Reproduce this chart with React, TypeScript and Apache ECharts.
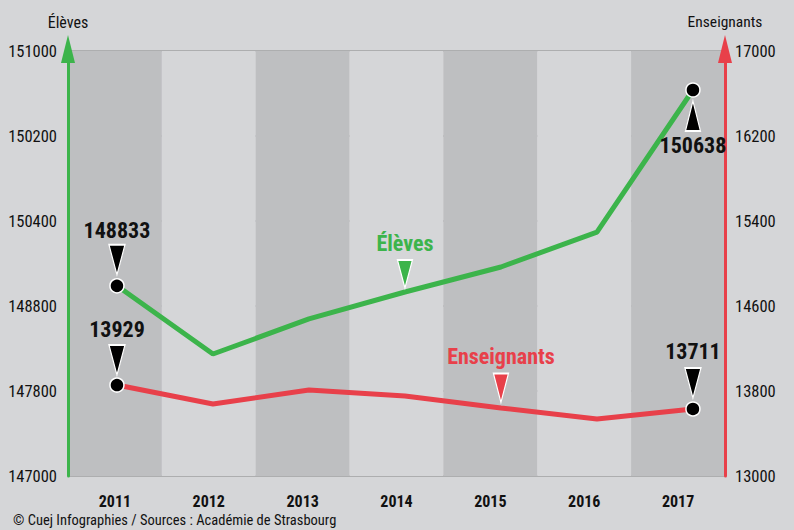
import React, { useEffect, useRef } from 'react';
import * as echarts from 'echarts';

const years = ['2011', '2012', '2013', '2014', '2015', '2016', '2017'];
const yearValues = [2011, 2012, 2013, 2014, 2015, 2016, 2017];
const eleves = [148790, 148148, 148478, 148732, 148967, 149296, 150633];
const enseignants = [13856, 13678, 13809, 13753, 13640, 13536, 13631];
const leftTickLabels = ['147000', '147800', '148800', '150400', '150200', '151000'];
const rightTickLabels = ['13000', '13800', '14600', '15400', '16200', '17000'];
const elevesCallouts = ['148833', '150638'];
const enseignantsCallouts = ['13929', '13711'];
const seriesNames = ['Élèves', 'Enseignants'];
const footerText = '© Cuej Infographies / Sources : Académie de Strasbourg';

const FONT = "'Roboto Condensed', 'DejaVu Sans Condensed', sans-serif";
const GREEN = '#3cb44b';
const RED = '#e8404a';
const DOWN = 'path://M0,0L16,0L8,30Z';
const UP = 'path://M8,0L16,30L0,30Z';

export default function App() {
  const ref = useRef<HTMLDivElement>(null);
  useEffect(() => {
    if (!ref.current) return;
    const chart = echarts.init(ref.current, undefined, { renderer: 'svg' });
    const last = yearValues.length - 1;
    const dotItem = (v: number, i: number) => ({
      value: [yearValues[i], v],
      symbol: i === 0 || i === last ? 'circle' : 'none',
    });
    const calloutLabel = (text: string, pos: string, dist: number) => ({
      show: true,
      position: pos,
      distance: dist,
      formatter: text,
      fontFamily: FONT,
      fontWeight: 'bold',
      fontSize: 22,
      lineHeight: 22,
      color: '#111',
    });
    const nameLabel = (text: string, color: string, dist: number) => ({
      show: true,
      position: 'top',
      distance: dist,
      formatter: text,
      fontFamily: FONT,
      fontWeight: 'bold',
      fontSize: 22,
      lineHeight: 22,
      color,
    });
    const option: any = {
      animation: false,
      backgroundColor: '#d5d6d8',
      textStyle: { fontFamily: FONT },
      grid: { left: 68, right: 69, top: 51, bottom: 54 },
      xAxis: [
        {
          type: 'category',
          data: years,
          boundaryGap: true,
          axisLine: { show: false },
          axisTick: { show: false },
          axisLabel: { fontFamily: FONT, fontWeight: 'bold', fontSize: 16, color: '#111', margin: 17 },
          splitArea: { show: true, interval: 0, areaStyle: { color: ['#bebfc1', '#d5d6d8'] } },
          splitLine: { show: false },
        },
        {
          type: 'value',
          min: 2010.49,
          max: 2017.334,
          show: false,
        },
      ],
      yAxis: [
        {
          type: 'value',
          position: 'left',
          min: 147000,
          max: 151000,
          interval: 800,
          name: seriesNames[0],
          nameLocation: 'end',
          nameGap: 21,
          nameTextStyle: { fontFamily: FONT, fontSize: 16, color: '#111', align: 'center' },
          axisLine: {
            show: true,
            lineStyle: { color: GREEN, width: 3 },
            symbol: ['none', 'triangle'],
            symbolSize: [14, 28],
            symbolOffset: [0, 2],
          },
          axisTick: { show: false },
          axisLabel: {
            fontFamily: FONT,
            fontSize: 16.5,
            color: '#111',
            margin: 11,
            padding: [10, 0, 0, 0],
            formatter: (v: number) => leftTickLabels[Math.round((v - 147000) / 800)] ?? '',
          },
          splitLine: { show: true, lineStyle: { color: '#9fa0a2', width: 1.5 } },
        },
        {
          type: 'value',
          position: 'right',
          min: 13000,
          max: 17000,
          interval: 800,
          name: seriesNames[1],
          nameLocation: 'end',
          nameGap: 21,
          nameTextStyle: { fontFamily: FONT, fontSize: 15.5, color: '#111', align: 'center' },
          axisLine: {
            show: true,
            lineStyle: { color: RED, width: 3 },
            symbol: ['none', 'triangle'],
            symbolSize: [14, 28],
            symbolOffset: [0, 2],
          },
          axisTick: { show: false },
          axisLabel: {
            fontFamily: FONT,
            fontSize: 16.5,
            color: '#111',
            margin: 10,
            padding: [10, 0, 0, 0],
            formatter: (v: number) => rightTickLabels[Math.round((v - 13000) / 800)] ?? '',
          },
          splitLine: { show: false },
        },
      ],
      series: [
        {
          name: seriesNames[0],
          type: 'line',
          xAxisIndex: 1,
          yAxisIndex: 0,
          data: eleves.map(dotItem),
          showAllSymbol: true,
          symbolSize: 14,
          lineStyle: { color: GREEN, width: 5 },
          itemStyle: { color: '#000', borderColor: '#fff', borderWidth: 1.5 },
          z: 3,
          markPoint: {
            itemStyle: { color: '#000', borderColor: '#fff', borderWidth: 1.5 },
            data: [
              {
                coord: [yearValues[0], eleves[0]],
                symbol: DOWN,
                symbolSize: [16, 30],
                symbolOffset: [0, -26],
                label: calloutLabel(elevesCallouts[0], 'top', 2),
              },
              {
                coord: [yearValues[last], eleves[last]],
                symbol: UP,
                symbolSize: [15, 30],
                symbolOffset: [0, 26],
                label: calloutLabel(elevesCallouts[1], 'bottom', 2),
              },
              {
                coord: [yearValues[3], eleves[3]],
                symbol: DOWN,
                symbolSize: [15, 28],
                symbolOffset: [0, -18],
                itemStyle: { color: GREEN, borderColor: '#fff', borderWidth: 1.5 },
                label: nameLabel(seriesNames[0], GREEN, 4),
              },
            ],
          },
        },
        {
          name: seriesNames[1],
          type: 'line',
          xAxisIndex: 1,
          yAxisIndex: 1,
          data: enseignants.map(dotItem),
          showAllSymbol: true,
          symbolSize: 14,
          lineStyle: { color: RED, width: 5 },
          itemStyle: { color: '#000', borderColor: '#fff', borderWidth: 1.5 },
          z: 3,
          markPoint: {
            itemStyle: { color: '#000', borderColor: '#fff', borderWidth: 1.5 },
            data: [
              {
                coord: [yearValues[0], enseignants[0]],
                symbol: DOWN,
                symbolSize: [16, 30],
                symbolOffset: [0, -25],
                label: calloutLabel(enseignantsCallouts[0], 'top', 4),
              },
              {
                coord: [yearValues[last], enseignants[last]],
                symbol: DOWN,
                symbolSize: [16, 30],
                symbolOffset: [0, -26],
                label: calloutLabel(enseignantsCallouts[1], 'top', 4),
              },
              {
                coord: [yearValues[4], enseignants[4]],
                symbol: DOWN,
                symbolSize: [15, 29],
                symbolOffset: [0, -20],
                itemStyle: { color: RED, borderColor: '#fff', borderWidth: 1.5 },
                label: nameLabel(seriesNames[1], RED, 5),
              },
            ],
          },
        },
      ],
      graphic: [
        {
          type: 'text',
          left: 13,
          top: 513,
          style: { text: footerText, font: `14.5px ${FONT}`, fill: '#111' },
        },
      ],
    };
    chart.setOption(option);
    return () => chart.dispose();
  }, []);
  return (
    <div
      ref={ref}
      style={{ position: 'fixed', left: 0, top: 0, width: 794, height: 530 }}
    />
  );
}
